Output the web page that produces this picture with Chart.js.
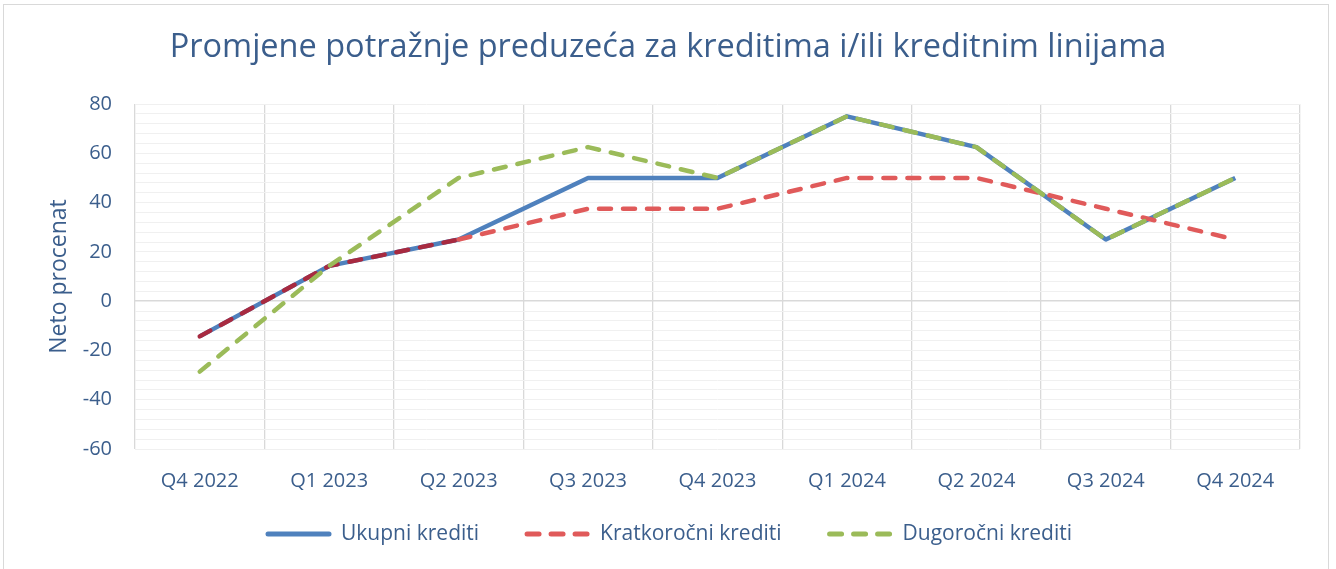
<!DOCTYPE html>
<html>
<head>
<meta charset="utf-8">
<script src="https://cdn.jsdelivr.net/npm/chart.js@4/dist/chart.umd.min.js"></script>
<style>
    html, body { margin: 0; padding: 0; background: #fff; }
    #wrap { position: relative; width: 1336px; height: 569px; overflow: hidden; }
    #frame { position: absolute; left: 3px; top: 4px; width: 1326px; height: 580px; border: 1px solid #d9d9d9; box-sizing: border-box; }
    canvas { position: absolute; left: 0; top: 0; }
</style>
</head>
<body>
<div id="wrap">
    <div id="frame"></div>
    <canvas id="loanChart" width="1336" height="569"></canvas>
</div>
<script>
const quarters = ['Q4 2022', 'Q1 2023', 'Q2 2023', 'Q3 2023', 'Q4 2023', 'Q1 2024', 'Q2 2024', 'Q3 2024', 'Q4 2024'];
const ukupni = [-14.3, 14.3, 25, 50, 50, 75, 62.5, 25, 50];
const kratkorocni = [-14.3, 14.3, 25, 37.5, 37.5, 50, 50, 37.5, 25];
const dugorocni = [-28.6, 14.3, 50, 62.5, 50, 75, 62.5, 25, 50];
const seriesNames = ['Ukupni krediti', 'Kratkoročni krediti', 'Dugoročni krediti'];

const textColor = '#3b5e8c';
const fontFamily = '"Open Sans", "Noto Sans", sans-serif';
const blue = '#4f81bd';
const red = '#e05a5a';
const green = '#9bbb59';
const dash = [12, 12];

// Legend row drawn by hand: line sample, then label, centred under the chart
const bottomLegend = {
    id: 'bottomLegend',
    afterDraw(chart) {
        const ctx = chart.ctx;
        const lineLen = 65, textGap = 10, itemGap = 46, y = 534;
        ctx.save();
        ctx.font = '21px ' + fontFamily;
        const items = chart.data.datasets.map(ds => ({ ds, w: ctx.measureText(ds.label).width }));
        const total = items.reduce((s, it) => s + lineLen + textGap + it.w, 0) + itemGap * (items.length - 1);
        let x = (chart.width - total) / 2 + 1;
        for (const it of items) {
            ctx.strokeStyle = it.ds.borderColor;
            ctx.lineWidth = 5;
            ctx.lineCap = 'round';
            ctx.setLineDash(it.ds.borderDash || []);
            ctx.beginPath();
            ctx.moveTo(x + 2, y);
            ctx.lineTo(x + lineLen - 2, y);
            ctx.stroke();
            ctx.setLineDash([]);
            ctx.fillStyle = textColor;
            ctx.textBaseline = 'middle';
            ctx.fillText(it.ds.label, x + lineLen + textGap, y);
            x += lineLen + textGap + it.w + itemGap;
        }
        ctx.restore();
    }
};

function initChart() {
    const ctx = document.getElementById('loanChart').getContext('2d');

    const data = {
        labels: quarters,
        datasets: [
            {
                label: seriesNames[0],
                data: ukupni,
                borderColor: blue,
                borderWidth: 4.5,
                order: 3
            },
            {
                label: seriesNames[1],
                data: kratkorocni,
                borderColor: red,
                borderWidth: 4.5,
                borderDash: dash,
                borderCapStyle: 'round',
                // the red dashes look darker where they lie on the blue line
                segment: {
                    borderColor: c => (c.p1DataIndex <= 2 ? '#a82a40' : red)
                },
                order: 2
            },
            {
                label: seriesNames[2],
                data: dugorocni,
                borderColor: green,
                borderWidth: 4.5,
                borderDash: dash,
                borderCapStyle: 'round',
                order: 1
            }
        ]
    };

    const config = {
        type: 'line',
        data: data,
        plugins: [bottomLegend],
        options: {
            responsive: false,
            animation: false,
            layout: { padding: { left: 36, right: 36, top: 14, bottom: 0 } },
            elements: {
                point: { radius: 0, hoverRadius: 0 },
                line: { tension: 0, borderJoinStyle: 'round' }
            },
            scales: {
                x: {
                    offset: true,
                    afterFit: scale => { scale.height = 120; },
                    grid: { offset: true, color: '#d9d9d9', lineWidth: 1.3, drawTicks: false },
                    border: { display: false },
                    ticks: {
                        color: textColor,
                        padding: 20,
                        font: { family: fontFamily, size: 20 }
                    }
                },
                y: {
                    min: -60,
                    max: 80,
                    afterFit: scale => { scale.width = 99; },
                    grid: {
                        drawTicks: false,
                        color: c => (c.tick && c.tick.value === 0 ? '#d9d9d9' : '#f0f0f0'),
                        lineWidth: c => (c.tick && c.tick.value === 0 ? 1.5 : 1)
                    },
                    border: { display: false },
                    ticks: {
                        stepSize: 4,
                        autoSkip: false,
                        padding: 23,
                        color: textColor,
                        font: { family: fontFamily, size: 20 },
                        callback: v => (v % 20 === 0 ? v : '')
                    },
                    title: {
                        display: true,
                        text: 'Neto procenat',
                        color: textColor,
                        font: { family: fontFamily, size: 23 },
                        padding: { top: 10, bottom: 0 }
                    }
                }
            },
            plugins: {
                title: {
                    display: true,
                    text: 'Promjene potražnje preduzeća za kreditima i/ili kreditnim linijama',
                    color: textColor,
                    font: { family: fontFamily, size: 32.5, weight: 'normal' },
                    padding: { top: 14.5, bottom: 36.5 }
                },
                legend: { display: false },
                tooltip: { enabled: false }
            }
        }
    };

    new Chart(ctx, config);
}

document.addEventListener('DOMContentLoaded', initChart);
</script>
</body>
</html>
